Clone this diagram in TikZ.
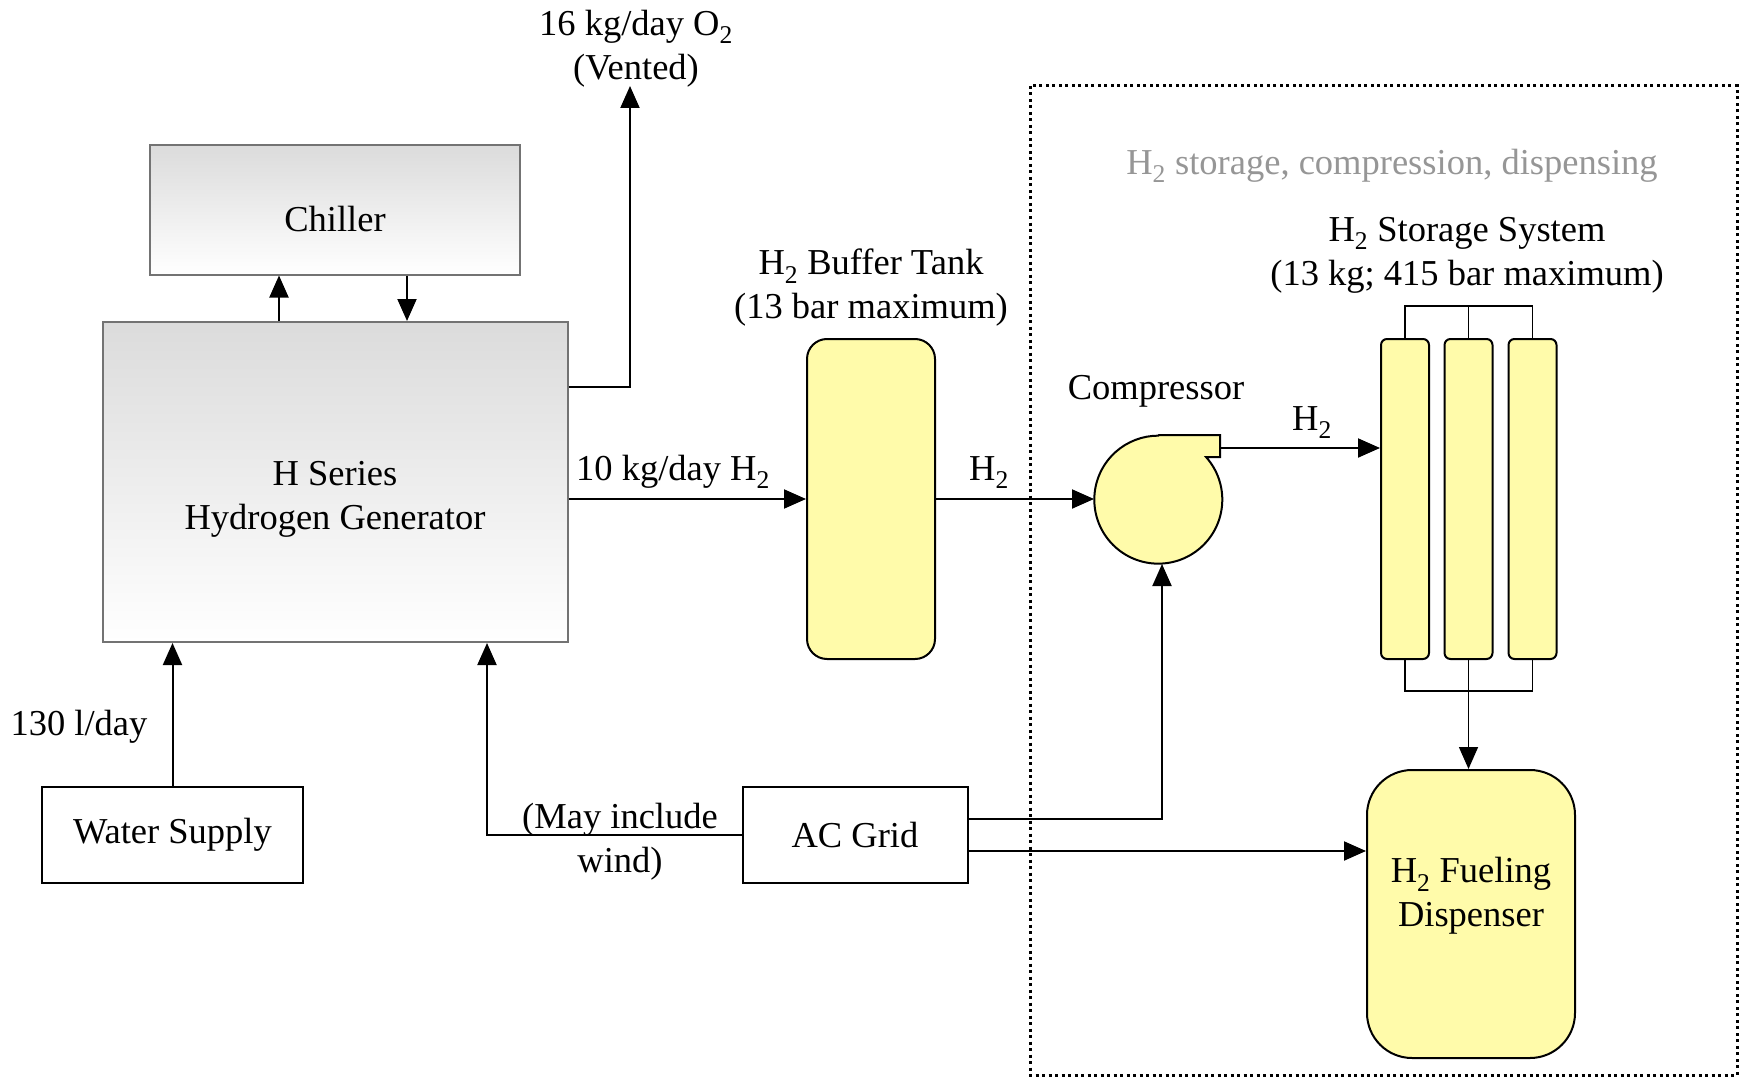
\documentclass[tikz,border=0pt]{standalone}
\usepackage{fontspec}
\setmainfont{Liberation Serif}
\usetikzlibrary{arrows.meta}

\definecolor{tankyellow}{RGB}{255,251,170}
\definecolor{framegray}{RGB}{115,115,115}
\definecolor{labelgray}{RGB}{150,150,150}

\begin{document}
\begin{tikzpicture}[x=1pt, y=1pt, line width=2pt,
    every node/.style={font=\fontsize{36.5}{44}\selectfont, align=center},
    unit/.style={rectangle, draw=framegray, top color=gray!28, bottom color=white, inner sep=0pt},
    plain/.style={rectangle, draw, inner sep=0pt},
    tank/.style={rectangle, draw, fill=tankyellow, inner sep=0pt},
    arr/.style={-{Triangle[length=22pt,width=19pt]}},
    txt/.style={inner sep=0pt}]
  \useasboundingbox (0,0) rectangle (1742,-1078);

  % storage area
  \draw[line width=3pt, dash pattern=on 3pt off 3.5pt] (1030,-86) rectangle (1737,-1075);
  \node[txt, text=labelgray] (arealbl) at (1392,-166) {H\textsubscript{2} storage, compression, dispensing};

  % boxes
  \node[unit, minimum width=370pt, minimum height=129pt, text height=43pt] (chiller) at (335,-210) {Chiller};
  \node[unit, minimum width=465pt, minimum height=320pt, text height=103pt] (gen) at (335,-482) {H Series\\Hydrogen Generator};
  \node[plain, minimum width=261pt, minimum height=96pt] (water) at (172.5,-835) {Water Supply};
  \node[plain, minimum width=225pt, minimum height=96pt] (acgrid) at (855,-835) {AC Grid};
  \node[tank, rounded corners=20pt, minimum width=128pt, minimum height=320pt] (buffer) at (871,-499) {};
  \node[circle, minimum size=128pt, inner sep=0pt] (comp) at (1159,-499) {};
  \draw[fill=tankyellow] (1159,-435) -- (1220,-435) -- (1220,-457) -- (1206,-457)
    arc[start angle=41.8, end angle=-270, radius=64] -- cycle;
  \coordinate (outlet) at (1220,-448);
  \node[tank, rounded corners=6pt, minimum width=48pt, minimum height=320pt] (t1) at (1405,-499) {};
  \node[tank, rounded corners=6pt, minimum width=48pt, minimum height=320pt] (t2) at (1468.5,-499) {};
  \node[tank, rounded corners=6pt, minimum width=48pt, minimum height=320pt] (t3) at (1532.5,-499) {};
  \node[tank, rounded corners=45pt, minimum width=208pt, minimum height=288pt] (disp) at (1471,-914) {};
  \node[txt] (disptxt) at (1471,-896) {H\textsubscript{2} Fueling\\Dispenser};

  % labels
  \coordinate (vent) at (630,-86);
  \node[txt, anchor=south] (o2) at (636,-88) {16 kg/day O\textsubscript{2}\\(Vented)};
  \node[txt] (bufferlbl) at (871,-288) {H\textsubscript{2} Buffer Tank\\(13 bar maximum)};
  \node[txt] (storelbl) at (1467,-255) {H\textsubscript{2} Storage System\\(13 kg; 415 bar maximum)};
  \node[txt] (complbl) at (1156,-391) {Compressor};
  \node[txt, anchor=base] (h2gen) at (673,-480) {10 kg/day H\textsubscript{2}};
  \node[txt, anchor=base] (h2buf) at (989,-480) {H\textsubscript{2}};
  \node[txt, anchor=base] (h2comp) at (1312,-430) {H\textsubscript{2}};
  \node[txt, anchor=base] (waterlbl) at (79,-735) {130 l/day};
  \node[txt] (windlbl) at (620,-842) {(May include\\wind)};

  % connectors
  \draw[arr] ([xshift=-56pt]gen.north) -- ([xshift=-56pt]chiller.south);
  \draw[arr] ([xshift=72pt]chiller.south) -- ([xshift=72pt]gen.north);
  \draw[arr] ([yshift=95pt]gen.east) -| (vent);
  \draw[arr] (gen.east |- buffer.west) -- (buffer.west);
  \draw[arr] (buffer.east) -- (comp.west);
  \draw[arr] (outlet) -- (outlet -| t1.west);
  \draw[arr] (water.north) -- (water.north |- gen.south);
  \draw[arr] (acgrid.west) -| ([xshift=152pt]gen.south);
  \draw[arr] ([yshift=16pt]acgrid.east) -| ([xshift=3pt]comp.south);
  \draw[arr] ([yshift=-16pt]acgrid.east) -- ([yshift=-16pt]acgrid.east -| disp.west);
  \draw[line width=1.5pt] (t1.north) -- ++(0,32) -| (t3.north);
  \draw[line width=1.5pt] (t2.north) -- ++(0,32);
  \draw[line width=1.5pt] (t1.south) -- ++(0,-31) -| (t3.south);
  \draw[arr, line width=1.5pt] (t2.south) -- (t2.south |- disp.north);
\end{tikzpicture}
\end{document}
